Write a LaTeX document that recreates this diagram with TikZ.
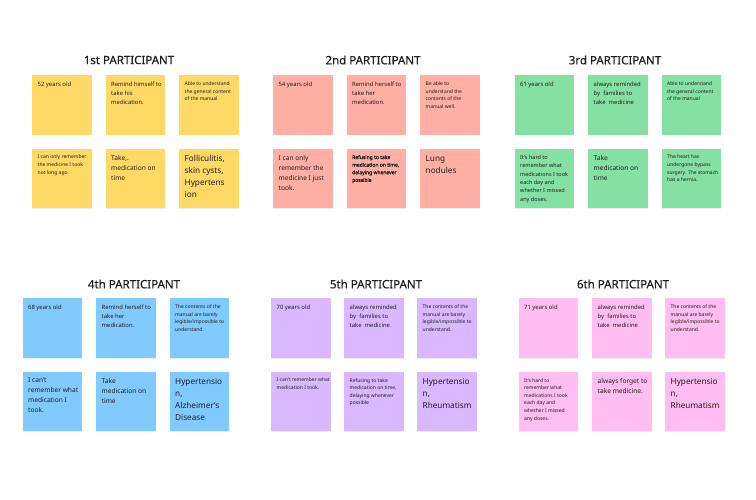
\documentclass[tikz,border=0pt]{standalone}
\usepackage{fontspec}
\setmainfont{Noto Sans}
\newfontfamily\ttlfont[FakeBold=0.35]{Noto Sans}
\newfontfamily\bfnoto[FakeBold=1.6]{Noto Sans}
\usetikzlibrary{shadows}
\definecolor{cyel}{HTML}{FFD966}
\definecolor{cred}{HTML}{FFAFA3}
\definecolor{cgrn}{HTML}{85E0A3}
\definecolor{cblu}{HTML}{80CAFF}
\definecolor{cvio}{HTML}{D9B8FF}
\definecolor{cpnk}{HTML}{FFBDF2}
\definecolor{ink}{HTML}{1E1E1E}
\newcommand{\szS}{\fontsize{5.0}{7.6}\selectfont}
\newcommand{\szM}{\fontsize{5.9}{9}\selectfont}
\newcommand{\szR}{\fontsize{5.5}{8.4}\selectfont}
\newcommand{\szL}{\fontsize{6.6}{10}\selectfont}
\newcommand{\szX}{\fontsize{8.2}{12}\selectfont}
\tikzset{
  note/.style={fill=#1, draw=none, minimum width=59.5pt, minimum height=59.5pt,
    inner sep=0pt, anchor=north west,
    drop shadow={shadow xshift=0pt, shadow yshift=-0.8pt, opacity=0.15}},
  txt/.style={anchor=north west, inner sep=0pt, align=left, text=ink},
  ttl/.style={font=\ttlfont\fontsize{11.5}{13}\selectfont, text=ink, anchor=center, inner sep=0pt}
}
\newcommand{\stk}[6]{%
  \node[note=#2] (#1) at (#3,#4) {};
  \node[txt, font=#5] (#1t) at ([xshift=5.5pt,yshift=-6.5pt]#1.north west) {#6};
}
\begin{document}
\begin{tikzpicture}[x=1pt,y=-1pt]
\useasboundingbox[fill=white] (0,0) rectangle (756,500);
% ---------- 1st
\node[ttl] (t1) at (129,60) {1st PARTICIPANT};
\stk{a1}{cyel}{32}{75}{\szM}{52 years old}
\stk{a2}{cyel}{105.5}{75}{\szM}{Remind himself to\\take his\\medication.}
\stk{a3}{cyel}{179}{75}{\szS}{Able to understand\\the general content\\of the manual}
\stk{a4}{cyel}{32}{148.5}{\szS}{I can only remember\\the medicine I took\\not long ago.}
\stk{a5}{cyel}{105.5}{148.5}{\szL}{Take,.\\medication on\\time}
\stk{a6}{cyel}{179}{148.5}{\szX}{Folliculitis,\\skin cysts,\\Hypertens\\ion}
% ---------- 2nd
\node[ttl] (t2) at (373,60) {2nd PARTICIPANT};
\stk{b1}{cred}{273}{75}{\szM}{54 years old}
\stk{b2}{cred}{346.5}{75}{\szM}{Remind herself to\\take her\\medication.}
\stk{b3}{cred}{420}{75}{\szS}{Be able to\\understand the\\contents of the\\manual well.}
\stk{b4}{cred}{273}{148.5}{\szL}{I can only\\remember the\\medicine I just\\took.}
\stk{b5}{cred}{346.5}{148.5}{\bfnoto\szS}{Refusing to take\\medication on time,\\delaying whenever\\possible}
\stk{b6}{cred}{420}{148.5}{\szX}{Lung\\nodules}
% ---------- 3rd
\node[ttl] (t3) at (615,60) {3rd PARTICIPANT};
\stk{c1}{cgrn}{514.5}{75}{\szM}{61 years old}
\stk{c2}{cgrn}{588}{75}{\szM}{always reminded\\by\ \ families to\\take\ \ medicine}
\stk{c3}{cgrn}{661.5}{75}{\szS}{Able to understand\\the general content\\of the manual}
\stk{c4}{cgrn}{514.5}{148.5}{\szR}{It's hard to\\remember what\\medications I took\\each day and\\whether I missed\\any doses.}
\stk{c5}{cgrn}{588}{148.5}{\szL}{Take\\medication on\\time}
\stk{c6}{cgrn}{661.5}{148.5}{\szS}{The heart has\\undergone bypass\\surgery. The stomach\\has a hernia.}
% ---------- 4th
\node[ttl] (t4) at (134,284) {4th PARTICIPANT};
\stk{d1}{cblu}{22.5}{298}{\szM}{68 years old}
\stk{d2}{cblu}{96}{298}{\szM}{Remind herself to\\take her\\medication.}
\stk{d3}{cblu}{169.5}{298}{\szS}{The contents of the\\manual are barely\\legible/impossible to\\understand.}
\stk{d4}{cblu}{22.5}{371.5}{\szL}{I can't\\remember what\\medication I\\took.}
\stk{d5}{cblu}{96}{371.5}{\szL}{Take\\medication on\\time}
\stk{d6}{cblu}{169.5}{371.5}{\szX}{Hypertensio\\n,\\Alzheimer's\\Disease}
% ---------- 5th
\node[ttl] (t5) at (376,284) {5th PARTICIPANT};
\stk{e1}{cvio}{271}{298}{\szM}{70 years old}
\stk{e2}{cvio}{344}{298}{\szM}{always reminded\\by\ \ families to\\take\ \ medicine}
\stk{e3}{cvio}{417}{298}{\szS}{The contents of the\\manual are barely\\legible/impossible to\\understand.}
\stk{e4}{cvio}{271}{371.5}{\szS}{I can't remember what\\medication I took.}
\stk{e5}{cvio}{344}{371.5}{\szS}{Refusing to take\\medication on time,\\delaying whenever\\possible}
\stk{e6}{cvio}{417}{371.5}{\szX}{Hypertensio\\n,\\Rheumatism}
% ---------- 6th
\node[ttl] (t6) at (623,284) {6th PARTICIPANT};
\stk{f1}{cpnk}{518.5}{298}{\szM}{71 years old}
\stk{f2}{cpnk}{592}{298}{\szM}{always reminded\\by\ \ families to\\take\ \ medicine}
\stk{f3}{cpnk}{665}{298}{\szS}{The contents of the\\manual are barely\\legible/impossible to\\understand.}
\stk{f4}{cpnk}{518.5}{371.5}{\szS}{It's hard to\\remember what\\medications I took\\each day and\\whether I missed\\any doses.}
\stk{f5}{cpnk}{592}{371.5}{\szL}{always forget to\\take medicine.}
\stk{f6}{cpnk}{665}{371.5}{\szX}{Hypertensio\\n,\\Rheumatism}
\end{tikzpicture}
\end{document}
